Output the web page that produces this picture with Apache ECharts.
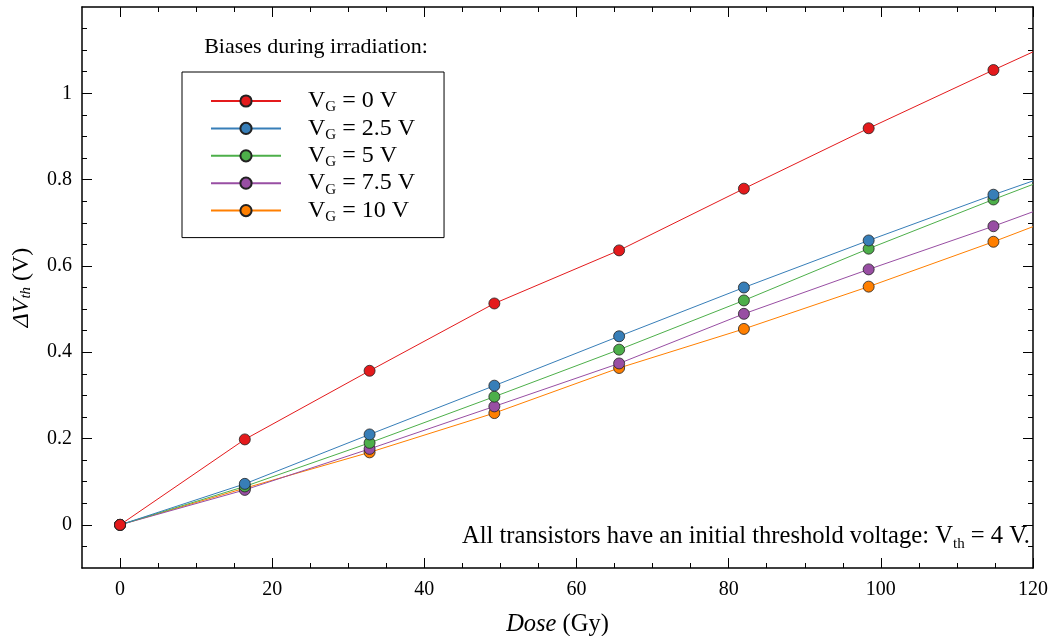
<!DOCTYPE html>
<html>
<head>
<meta charset="utf-8">
<script src="https://cdn.jsdelivr.net/npm/echarts@6/dist/echarts.min.js"></script>
<style>html,body{margin:0;padding:0;background:#fff}#c{width:1055px;height:636px}</style>
</head>
<body>
<div id="c"></div>
<script>
// Dose values (Gy); the last entry (120) is where each line meets the right edge of the plot
const doses = [0, 16.4, 32.8, 49.2, 65.6, 82, 98.4, 114.8, 120];
const vg0   = [0, 0.198, 0.357, 0.513, 0.636, 0.779, 0.919, 1.054, 1.096];
const vg25  = [0, 0.095, 0.2095, 0.3225, 0.437, 0.550, 0.659, 0.765, 0.797];
const vg5   = [0, 0.089, 0.190, 0.297, 0.406, 0.520, 0.640, 0.754, 0.789];
const vg75  = [0, 0.081, 0.176, 0.2745, 0.374, 0.489, 0.592, 0.692, 0.7255];
const vg10  = [0, 0.085, 0.168, 0.259, 0.3635, 0.454, 0.552, 0.656, 0.691];
const seriesNames = ['V{s|G} = 0 V', 'V{s|G} = 2.5 V', 'V{s|G} = 5 V', 'V{s|G} = 7.5 V', 'V{s|G} = 10 V'];
const seriesColors = ['#e41a1c', '#377eb8', '#4daf4a', '#984ea3', '#ff7f00'];
const seriesValues = [vg0, vg25, vg5, vg75, vg10];
const xMajor = [0, 20, 40, 60, 80, 100, 120];
const xMinor = [5, 10, 15, 25, 30, 35, 45, 50, 55, 65, 70, 75, 85, 90, 95, 105, 110, 115];
const yMajor = [0, 0.2, 0.4, 0.6, 0.8, 1];
const yMinor = [-0.05, 0.05, 0.1, 0.15, 0.25, 0.3, 0.35, 0.45, 0.5, 0.55, 0.65, 0.7, 0.75, 0.85, 0.9, 0.95, 1.05, 1.1, 1.15];
const legendTitle = 'Biases during irradiation:';
const noteText = 'All transistors have an initial threshold voltage: V{s|th} = 4 V.';

const FONT = 'Liberation Serif';
const X_MIN = -5, X_MAX = 120, Y_MIN = -0.1, Y_MAX = 1.2;

function xAx(pos, values, len, showLine, showLabel, extra) {
  return Object.assign({
    type: 'value', position: pos, min: X_MIN, max: X_MAX,
    axisLine: {show: showLine, onZero: false, lineStyle: {color: '#000', width: 1.5}},
    axisTick: {show: true, inside: true, length: len, customValues: values, lineStyle: {color: '#000', width: 1}},
    axisLabel: showLabel ? {show: true, customValues: values, fontFamily: FONT, fontSize: 20, color: '#000', margin: 12} : {show: false},
    splitLine: {show: false}
  }, extra || {});
}
function yAx(pos, values, len, showLine, showLabel, extra) {
  return Object.assign({
    type: 'value', position: pos, min: Y_MIN, max: Y_MAX,
    axisLine: {show: showLine, onZero: false, lineStyle: {color: '#000', width: 1.5}},
    axisTick: {show: true, inside: true, length: len, customValues: values, lineStyle: {color: '#000', width: 1}},
    axisLabel: showLabel ? {show: true, customValues: values, fontFamily: FONT, fontSize: 20, color: '#000', margin: 10,
      formatter: v => String(Math.round(v * 10) / 10)} : {show: false},
    splitLine: {show: false}
  }, extra || {});
}

const series = [];
for (let i = seriesValues.length - 1; i >= 0; i--) {
  series.push({
    name: seriesNames[i],
    type: 'line',
    xAxisIndex: 0, yAxisIndex: 0,
    data: doses.map((d, k) => k === doses.length - 1
      ? {value: [d, seriesValues[i][k]], symbol: 'none'}
      : [d, seriesValues[i][k]]),
    symbol: 'circle', symbolSize: 11,
    showAllSymbol: true,
    lineStyle: {color: seriesColors[i], width: 1},
    itemStyle: {color: seriesColors[i], borderColor: '#222', borderWidth: 0.8},
    emphasis: {disabled: true},
    animation: false,
    z: 2
  });
}

const chart = echarts.init(document.getElementById('c'), null, {renderer: 'canvas'});
chart.setOption({
  animation: false,
  backgroundColor: '#fff',
  grid: {left: 82, right: 22, top: 7, bottom: 68, containLabel: false, outerBoundsMode: 'none'},
  xAxis: [
    xAx('bottom', xMajor, 10, true, true, {
      name: '{i|Dose} (Gy)', nameLocation: 'middle', nameGap: 44,
      nameTextStyle: {fontFamily: FONT, fontSize: 24.5, color: '#000', rich: {i: {fontFamily: FONT, fontSize: 24.5, fontStyle: 'italic', color: '#000'}}}
    }),
    xAx('bottom', xMinor, 5, false, false),
    xAx('top', xMajor, 10, true, false),
    xAx('top', xMinor, 5, false, false)
  ],
  yAxis: [
    yAx('left', yMajor, 10, true, true, {
      name: '{i|ΔV}{s|th} (V)', nameLocation: 'middle', nameGap: 48, nameRotate: 90,
      nameTextStyle: {fontFamily: FONT, fontSize: 24, color: '#000', rich: {
        i: {fontFamily: FONT, fontSize: 24, fontStyle: 'italic', color: '#000'},
        s: {fontFamily: FONT, fontSize: 15, fontStyle: 'italic', color: '#000', verticalAlign: 'bottom', lineHeight: 18}
      }}
    }),
    yAx('left', yMinor, 5, false, false),
    yAx('right', yMajor, 10, true, false),
    yAx('right', yMinor, 5, false, false)
  ],
  legend: {
    data: seriesNames,
    orient: 'vertical',
    left: 182, top: 72,
    padding: [17, 29, 13, 28],
    itemWidth: 70, itemHeight: 14, itemGap: 1.4,
    borderColor: '#000', borderWidth: 1, borderRadius: 0,
    backgroundColor: '#fff',
    selectedMode: false,
    textStyle: {
      fontFamily: FONT, fontSize: 24, color: '#000', padding: [0, 0, 0, 22], lineHeight: 24,
      rich: {
        s: {fontFamily: FONT, fontSize: 15, color: '#000', verticalAlign: 'bottom', lineHeight: 18, padding: [0, 0, -2, 0]}
      }
    }
  },
  graphic: [
    {type: 'text', x: 316, y: 47, style: {text: legendTitle, fontFamily: FONT, fontSize: 22, fill: '#000', align: 'center', verticalAlign: 'middle'}},
    {type: 'text', x: 1030, y: 537, style: {text: noteText, fontFamily: FONT, fontSize: 24.6, fill: '#000', align: 'right', verticalAlign: 'middle',
      rich: {s: {fontFamily: FONT, fontSize: 15, fill: '#000', verticalAlign: 'bottom', lineHeight: 18, padding: [0, 0, -2, 0]}}}}
  ],
  series: series
});
</script>
</body>
</html>
